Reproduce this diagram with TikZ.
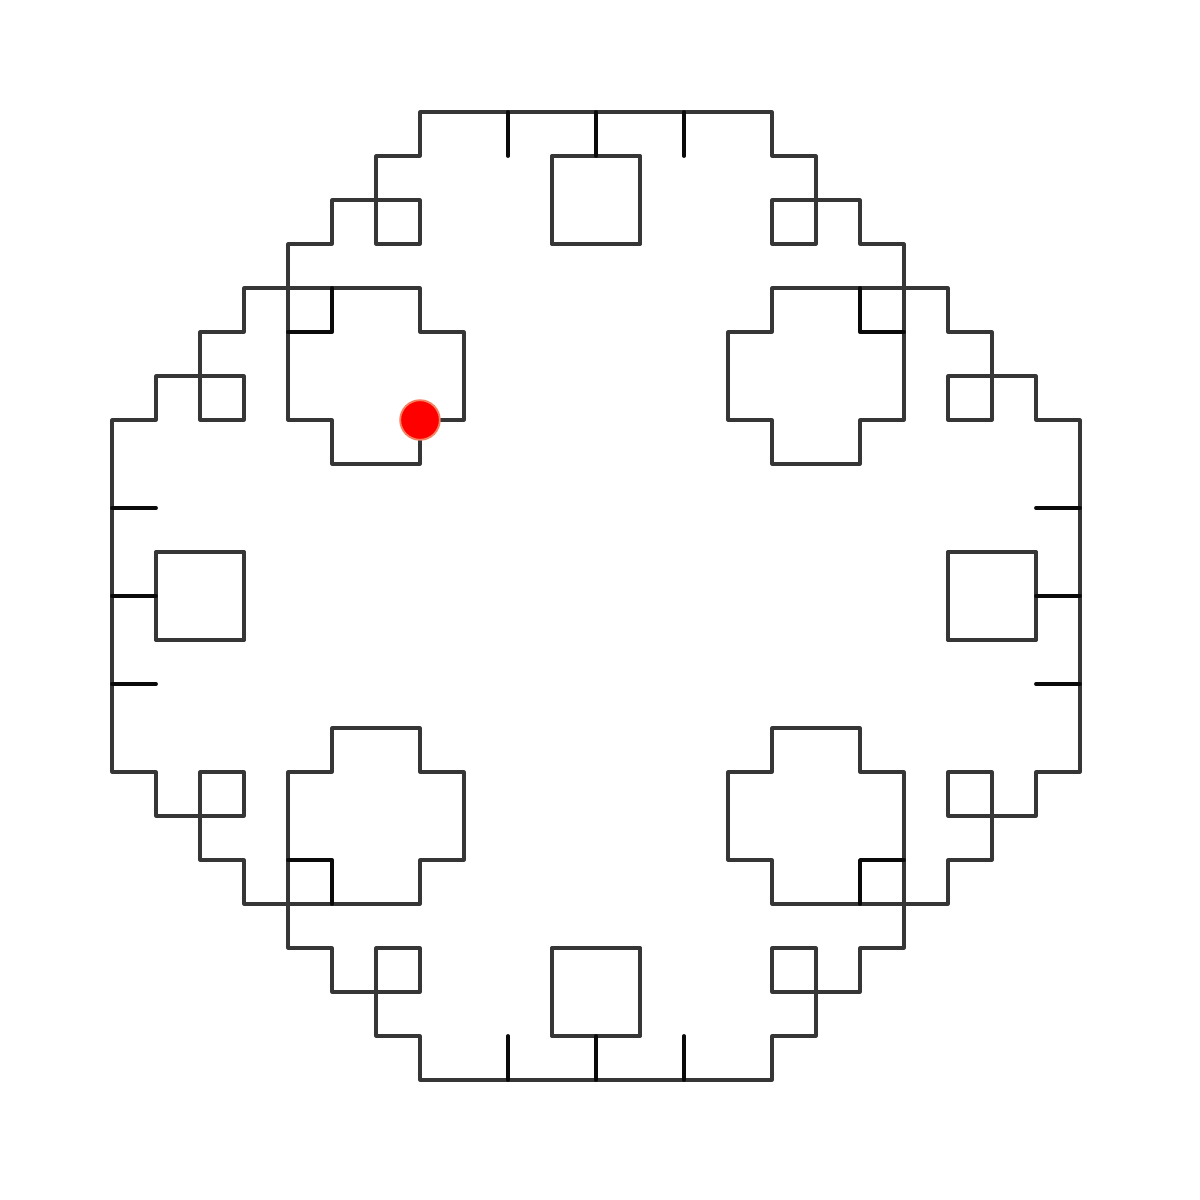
\documentclass[tikz,border=0pt]{standalone}
\definecolor{gline}{HTML}{363636}
\definecolor{bline}{HTML}{0A0A0A}
\definecolor{dotedge}{HTML}{F58060}
\begin{document}
\begin{tikzpicture}[x=1cm,y=-1cm,
  wall/.style={draw=gline,line width=2pt,line join=round,line cap=round},
  overlap/.style={draw=bline,line width=2.5pt,line join=round,line cap=round}]
\useasboundingbox[fill=white] (-2.5455,-2.5455) rectangle (24.7273,24.7273);
\foreach \sx/\sy in {1/1,-1/1,1/-1,-1/-1}{
  \begin{scope}[shift={(11,11)},xscale=\sx,yscale=\sy,shift={(-11,-11)}]
    \draw[wall] (11,0) -- (7,0) -- (7,1) -- (6,1) -- (6,3) -- (7,3) -- (7,2) -- (5,2) -- (5,3)
      -- (4,3) -- (4,7) -- (5,7) -- (5,8) -- (7,8) -- (7,7) -- (8,7) -- (8,5) -- (7,5) -- (7,4)
      -- (3,4) -- (3,5) -- (2,5) -- (2,7) -- (3,7) -- (3,6) -- (1,6) -- (1,7) -- (0,7) -- (0,11);
    \draw[wall] (10,1) rectangle (12,3);
    \draw[wall] (1,10) rectangle (3,12);
    \draw[overlap] (9,0) -- (9,1);
    \draw[overlap] (11,0) -- (11,1);
    \draw[overlap] (0,9) -- (1,9);
    \draw[overlap] (0,11) -- (1,11);
    \draw[overlap] (5,4) -- (5,5) -- (4,5);
  \end{scope}
}
\node[circle,fill=red,draw=dotedge,line width=1.2pt,inner sep=0pt,minimum size=0.9cm] (turtle) at (7,7) {};
\end{tikzpicture}
\end{document}
